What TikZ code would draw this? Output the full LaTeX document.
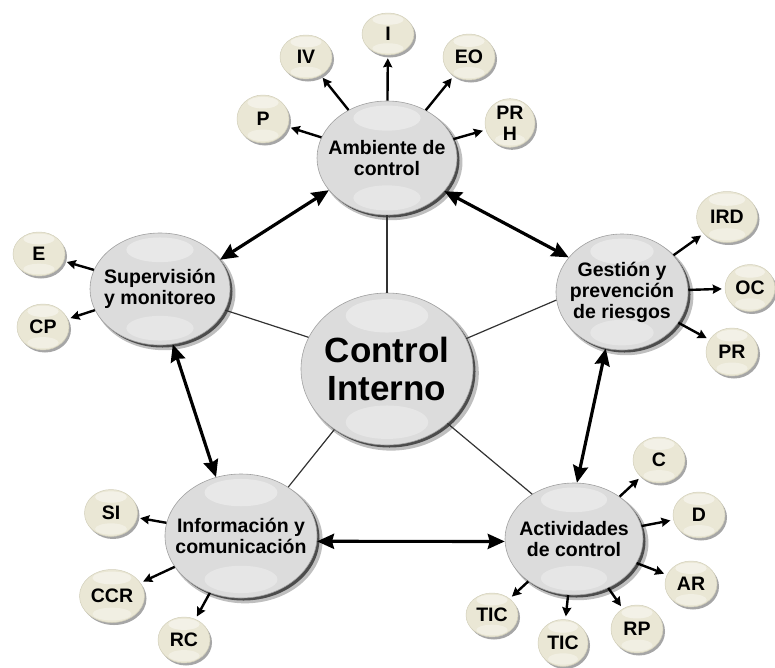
\documentclass[tikz,border=0pt]{standalone}
\usepackage{fontspec}
\setmainfont{Liberation Sans}
\usetikzlibrary{shapes.geometric,shadows,arrows.meta,calc}

\definecolor{majfill}{RGB}{220,220,220}
\definecolor{majline}{RGB}{160,160,160}
\definecolor{satfill}{RGB}{234,231,213}
\definecolor{satline}{RGB}{210,207,186}

\newcommand{\lblfont}{\bfseries\fontsize{19.5}{21}\selectfont}
\newcommand{\bigfont}{\bfseries\fontsize{35}{38}\selectfont}

\tikzset{
  major/.style 2 args={ellipse, draw=majline, line width=0.6pt, fill=majfill,
    minimum width=#1pt, minimum height=#2pt, inner sep=0pt,
    drop shadow={shadow xshift=4pt, shadow yshift=-4pt, shadow scale=1.02, opacity=.25, fill=black},
    drop shadow={shadow xshift=2.5pt, shadow yshift=-2.5pt, opacity=.6, fill=black},
    path picture={
      \fill[white,opacity=.35] ($(path picture bounding box.north)+(0,{0.15*#2})$)
        ellipse [x radius={0.24*#1pt}, y radius={0.11*#2pt}];
      \fill[white,opacity=.3] ($(path picture bounding box.south)+(0,{-0.15*#2})$)
        ellipse [x radius={0.24*#1pt}, y radius={0.11*#2pt}];
    }},
  sat/.style 2 args={ellipse, draw=satline, line width=0.5pt, fill=satfill,
    minimum width=#1pt, minimum height=#2pt, inner sep=0pt,
    font=\lblfont, align=center,
    drop shadow={shadow xshift=2pt, shadow yshift=-2.5pt, opacity=.35, fill=black},
    path picture={
      \fill[white,opacity=.45] ($(path picture bounding box.north)+(0,{0.16*#2})$)
        ellipse [x radius={0.3*#1pt}, y radius={0.12*#2pt}];
      \fill[white,opacity=.35] ($(path picture bounding box.south)+(0,{-0.16*#2})$)
        ellipse [x radius={0.3*#1pt}, y radius={0.12*#2pt}];
    }},
  lbl/.style={font=\lblfont, align=center, text=black},
  biglbl/.style={font=\bigfont, align=center, text=black},
  spoke/.style={line width=1.2pt, draw=black!80},
  sarrow/.style={-{Stealth[length=9pt,width=9pt,inset=1pt]}, line width=2.4pt, shorten >=3pt},
  biarrow/.style={{Stealth[length=17pt,width=15pt,inset=2pt]}-{Stealth[length=17pt,width=15pt,inset=2pt]}, line width=3.2pt},
}

\begin{document}
\begin{tikzpicture}[x=1pt, y=-1pt]
  \useasboundingbox (0,0) rectangle (775,667);

  % main components
  \node[major={172}{152}, label={[biglbl]center:{Control\\Interno}}] (ctrl) at (387,369) {};
  \node[major={140}{114}, label={[lbl]center:{Ambiente de\\control}}] (amb) at (387,158) {};
  \node[major={140}{112}, label={[lbl]center:{Supervisión\\y monitoreo}}] (sup) at (160,289) {};
  \node[major={132}{116}, label={[lbl]center:{Gestión y\\prevención\\de riesgos}}] (gest) at (622,292) {};
  \node[major={152}{124}, label={[lbl]center:{Información y\\comunicación}}] (inf) at (241,536) {};
  \node[major={138}{112}, label={[lbl]center:{Actividades\\de control}}] (act) at (574,539) {};

  % satellites of Ambiente de control
  \node[sat={52}{42}] (I)   at (388,34)  {I};
  \node[sat={52}{44}] (IV)  at (306,57)  {IV};
  \node[sat={52}{46}] (EO)  at (469,57)  {EO};
  \node[sat={52}{48}] (P)   at (263,119) {P};
  \node[sat={50}{48}] (PRH) at (510,123) {PR\\H};

  % satellites of Supervisión
  \node[sat={52}{44}] (E)  at (39,254) {E};
  \node[sat={52}{46}] (CP) at (43,327) {CP};

  % satellites of Gestión
  \node[sat={61}{51}] (IRD) at (727,217) {IRD};
  \node[sat={50}{47}] (OC)  at (750,288) {OC};
  \node[sat={52}{48}] (PR)  at (732,352) {PR};

  % satellites of Actividades
  \node[sat={52}{46}] (C)    at (659,460) {C};
  \node[sat={52}{46}] (D)    at (699,515) {D};
  \node[sat={52}{46}] (AR)   at (691,584) {AR};
  \node[sat={52}{48}] (RP)   at (637,629) {RP};
  \node[sat={50}{47}] (TICb) at (563,643) {TIC};
  \node[sat={52}{44}] (TICa) at (492,615) {TIC};

  % satellites of Información
  \node[sat={53}{47}] (SI)  at (111,513) {SI};
  \node[sat={65}{53}] (CCR) at (112,596) {CCR};
  \node[sat={52}{46}] (RC)  at (184,640) {RC};

  % spokes from the centre
  \draw[spoke] (ctrl.90)    -- (amb.270);
  \draw[spoke] (ctrl.158)   -- (sup.342.6);
  \draw[spoke] (ctrl.21)    -- (gest.187);
  \draw[spoke] (ctrl.229.6) -- (inf.46.8);
  \draw[spoke] (ctrl.318.5) -- (act.133.8);

  % links between neighbouring components
  \draw[biarrow] (amb.209)  -- (sup.26.6);
  \draw[biarrow] (amb.330)  -- (gest.147);
  \draw[biarrow] (sup.283)  -- (inf.113);
  \draw[biarrow] (inf.356)  -- (act.182);
  \draw[biarrow] (act.87)   -- (gest.254.7);

  % arrows to satellites
  \foreach \s in {I,IV,EO,P,PRH} \draw[sarrow] (amb) -- (\s);
  \foreach \s in {E,CP} \draw[sarrow] (sup) -- (\s);
  \foreach \s in {IRD,OC,PR} \draw[sarrow] (gest) -- (\s);
  \foreach \s in {C,D,AR,RP,TICb,TICa} \draw[sarrow] (act) -- (\s);
  \foreach \s in {SI,CCR,RC} \draw[sarrow] (inf) -- (\s);
\end{tikzpicture}
\end{document}
